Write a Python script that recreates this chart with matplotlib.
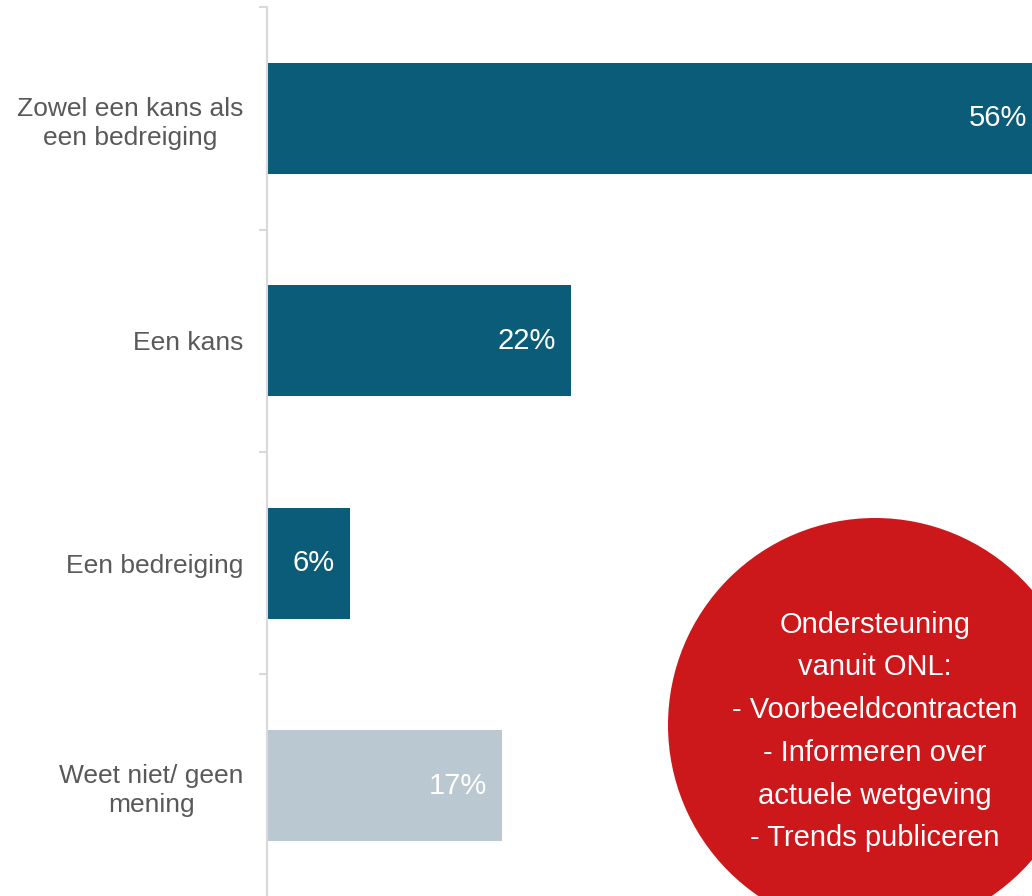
import matplotlib.pyplot as plt
from matplotlib.patches import Circle
from matplotlib.ticker import FixedLocator

plt.rcParams["font.family"] = ["Liberation Sans", "DejaVu Sans"]

# ── Data ─────────────────────────────────────────────────────────────────
categories = ["Zowel een kans als\neen bedreiging", "Een kans", "Een bedreiging",
              "Weet niet/ geen\nmening"]
values = [56, 22, 6, 17]
bar_colors = ["#0b5c78", "#0b5c78", "#0b5c78", "#bac8d2"]
callout = ("Ondersteuning\nvanuit ONL:\n- Voorbeeldcontracten\n- Informeren over\n"
           "actuele wetgeving\n- Trends publiceren")

# ── Figure ───────────────────────────────────────────────────────────────
fig = plt.figure(figsize=(10.32, 8.96), dpi=100)
ax = fig.add_axes([267 / 1032, -0.001, 1 - 267 / 1032, 0.993])

y = list(range(len(categories)))
ax.barh(y, values, height=0.5, color=bar_colors)
ax.set_xlim(0, 55.3)
ax.set_ylim(len(categories) - 0.5, -0.5)

for yi, v in zip(y, values):
    ax.annotate(f"{v}%", xy=(v, yi), xytext=(-15, 0), textcoords="offset pixels",
                ha="right", va="center", color="white", fontsize=21,
                annotation_clip=False, clip_on=False)

ax.set_yticks(y)
ax.set_yticklabels(categories, fontsize=19, color="#595959", linespacing=1.25)
for lab in ax.get_yticklabels():
    lab.set_multialignment("center")
ax.yaxis.set_minor_locator(FixedLocator([i - 0.5 for i in range(len(categories) + 1)]))
ax.tick_params(axis="y", which="major", length=0, pad=17)
ax.tick_params(axis="y", which="minor", length=6, width=1.5, color="#d9d9d9")
ax.set_xticks([])

for s in ["top", "right", "bottom"]:
    ax.spines[s].set_visible(False)
ax.spines["left"].set_color("#d9d9d9")
ax.spines["left"].set_linewidth(1.5)

# ── Callout circle ───────────────────────────────────────────────────────
cx, cy, r = 8.75, 8.96 - 7.25, 2.07
fig.patches.append(Circle((cx, cy), r, transform=fig.dpi_scale_trans,
                          facecolor="#cc181b", edgecolor="none", zorder=5))
fig.text(cx, cy - 0.065, callout, transform=fig.dpi_scale_trans, ha="center", va="center",
         color="white", fontsize=21, linespacing=1.67, zorder=6)

fig.savefig("out.png", dpi=100)
